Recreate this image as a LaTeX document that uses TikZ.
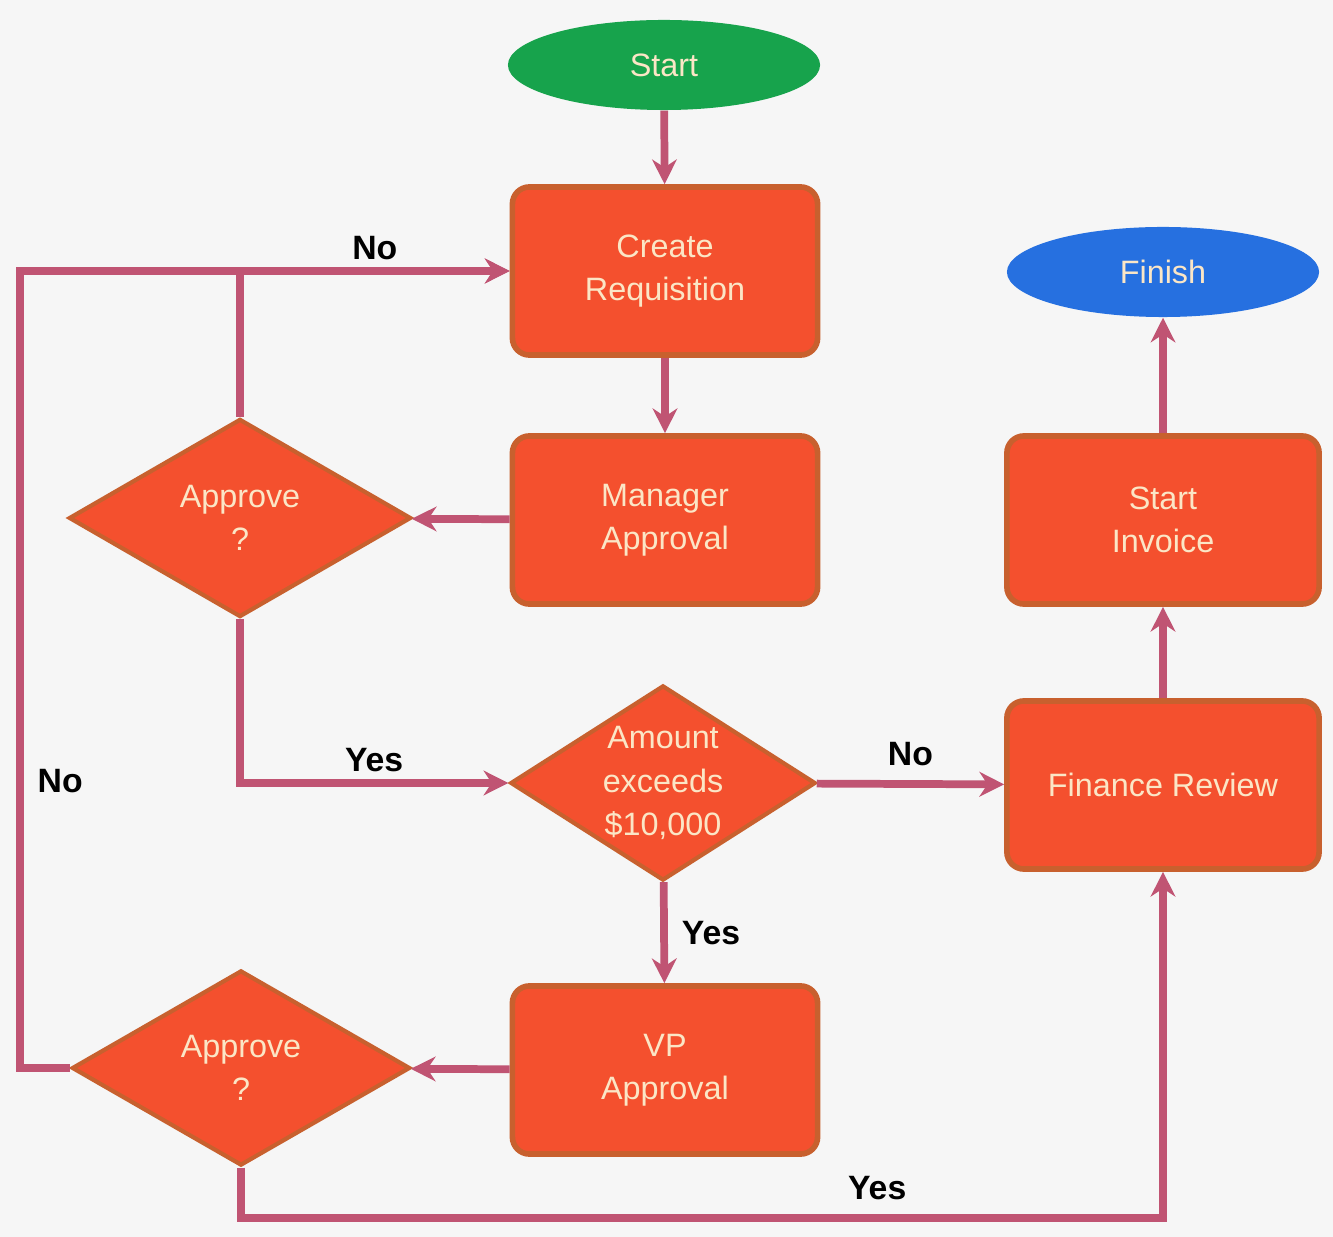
\documentclass[tikz,border=0pt]{standalone}
\usepackage{fontspec}
\setmainfont{Liberation Sans}
\usepackage{tikz}
\usetikzlibrary{positioning, arrows.meta, shapes.geometric}
\definecolor{bgGray}{HTML}{F6F6F6}
\definecolor{boxOrange}{HTML}{F4502E}
\definecolor{boxBorder}{HTML}{C8602E}
\definecolor{startGreen}{HTML}{17A34C}
\definecolor{finishBlue}{HTML}{2670E0}
\definecolor{lineMauve}{HTML}{C05473}
\definecolor{paleText}{HTML}{FBE6C6}
\tikzstyle{processNode}=[draw=boxBorder, line width=1.6pt, fill=boxOrange, rounded corners=0.17cm, minimum width=3.05cm, minimum height=1.68cm, align=center, text=paleText, font=\fontsize{9.2}{12.3}\selectfont]
\tikzstyle{decisionNode}=[diamond, draw=boxBorder, line width=1.2pt, fill=boxOrange, inner sep=0pt, align=center, text=paleText, font=\fontsize{9.2}{12.3}\selectfont]
\tikzstyle{terminalNode}=[ellipse, draw=none, minimum width=3.12cm, minimum height=0.9cm, text=paleText, font=\fontsize{9.2}{12.3}\selectfont]
\tikzstyle{flowLine}=[-{Stealth[length=7pt,width=7pt]}, line width=2.2pt, color=lineMauve]
\tikzstyle{flowLabel}=[text=black, font=\fontsize{9.6}{12}\selectfont\bfseries, inner sep=2pt]

\begin{document}
\begin{tikzpicture}[x=0.01cm, y=-0.01cm]
    \fill[bgGray] (0,0) rectangle (1333,1237);

    \node[terminalNode, fill=startGreen] (start) at (664,65) {Start};
    \node[processNode] (createReq) at (665,271) {Create\\Requisition};
    \node[processNode] (managerAppr) at (665,520) {Manager\\Approval};
    \node[decisionNode, minimum width=3.42cm, minimum height=1.98cm] (approveA) at (240,518) {Approve\\?};
    \node[decisionNode, inner sep=-3pt, minimum width=3.05cm, minimum height=1.95cm] (amountCheck) at (663,783) {Amount\\exceeds\\\$10,000};
    \node[processNode, minimum width=3.12cm] (financeReview) at (1163,785) {Finance Review};
    \node[processNode, minimum width=3.12cm] (startInvoice) at (1163,520) {Start\\Invoice};
    \node[terminalNode, fill=finishBlue] (finish) at (1163,272) {Finish};
    \node[processNode] (vpAppr) at (665,1070) {VP\\Approval};
    \node[decisionNode, minimum width=3.38cm, minimum height=1.95cm] (approveB) at (241,1068) {Approve\\?};

    \draw[flowLine] (start) -- (createReq);
    \draw[flowLine] (createReq) -- (managerAppr);
    \draw[flowLine] (managerAppr) -- (approveA);
    \draw[flowLine] (approveA.north) |- node[flowLabel, pos=0.75, above] {No} (createReq.west);
    \draw[flowLine] (approveA.south) |- node[flowLabel, pos=0.75, above] {Yes} (amountCheck.west);
    \draw[flowLine] (amountCheck) -- node[flowLabel, above=2pt] {No} (financeReview);
    \draw[flowLine] (amountCheck) -- node[flowLabel, right=2pt] {Yes} (vpAppr);
    \draw[flowLine] (vpAppr) -- (approveB);
    \draw[flowLine] (approveB.west) -- ++(-50,0) |- node[flowLabel, pos=0.18, right=2pt] {No} (createReq.west);
    \draw[flowLine] (approveB.south) -- ++(0,50) -| node[flowLabel, pos=0.345, above=2pt] {Yes} (financeReview.south);
    \draw[flowLine] (financeReview) -- (startInvoice);
    \draw[flowLine] (startInvoice) -- (finish);
\end{tikzpicture}
\end{document}
